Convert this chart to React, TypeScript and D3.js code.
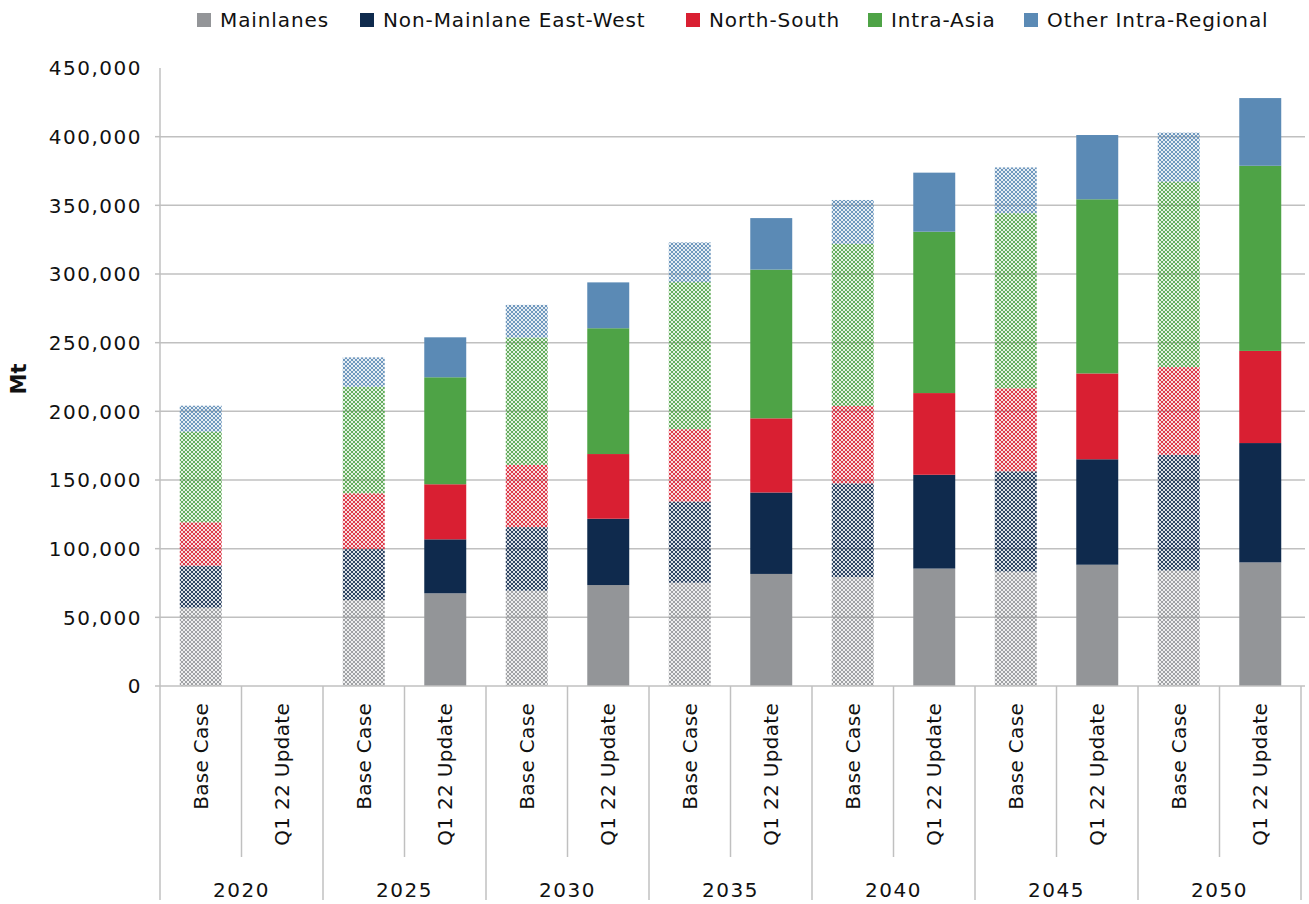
import React from "react";
import * as d3 from "d3";

const years = ["2020", "2025", "2030", "2035", "2040", "2045", "2050"];
const scenarios = ["Base Case", "Q1 22 Update"];
const seriesNames = ["Mainlanes", "Non-Mainlane East-West", "North-South", "Intra-Asia", "Other Intra-Regional"];
const seriesColors = ["#939598", "#0f2a4d", "#d91f32", "#4ea346", "#5b8ab5"];
const yTicks = [0, 50000, 100000, 150000, 200000, 250000, 300000, 350000, 400000, 450000];

// order of bars: 2020 BC, 2020 Q1, 2025 BC, 2025 Q1, ...
const mainlanes = [57000, 0, 62600, 67500, 69400, 73500, 75200, 81600, 79300, 85500, 83300, 88300, 84100, 90000];
const nonMainlaneEW = [30600, 0, 37100, 39300, 46300, 48300, 59100, 59300, 68300, 68300, 73000, 76800, 84300, 86900];
const northSouth = [31600, 0, 40600, 40100, 45300, 47100, 52700, 54000, 56300, 59500, 60500, 62500, 63800, 67100];
const intraAsia = [66000, 0, 77600, 77900, 92700, 91600, 107100, 108300, 118000, 117500, 127500, 126800, 135000, 134800];
const otherIntra = [18900, 0, 21400, 29100, 23800, 33400, 28900, 37500, 32000, 43000, 33300, 46800, 35700, 49300];

const seriesValues = [mainlanes, nonMainlaneEW, northSouth, intraAsia, otherIntra];

const W = 1309, H = 904;
const left = 160, right = 1301, top = 68, bottom = 686;
const FONT = "'DejaVu Sans', sans-serif";
const GRID = "#c0c0c0";

export default function App() {
  const bars = years.flatMap((y) => scenarios.map((s) => ({ key: y + "|" + s, year: y, scenario: s })));
  const rows = bars.map((b, i) => {
    const r: any = { key: b.key, scenario: b.scenario };
    seriesNames.forEach((n, k) => (r[n] = seriesValues[k][i]));
    return r;
  });
  const stack = d3.stack<any>().keys(seriesNames)(rows);

  const x = d3.scaleBand<string>().domain(bars.map((b) => b.key)).range([left, right]).padding(0);
  const yearX = d3.scaleBand<string>().domain(years).range([left, right]).padding(0);
  const y = d3.scaleLinear().domain([0, 450000]).range([bottom, top]);
  const bw = x.bandwidth() * 0.515;
  const fmt = d3.format(",");

  const legendX = [197, 360, 686, 868, 1024];

  return (
    <svg width={W} height={H} style={{ position: "absolute", left: 0, top: 0, background: "#fff" }}>
      <defs>
        {seriesColors.map((c, i) => (
          <pattern key={i} id={"hatch" + i} patternUnits="userSpaceOnUse" width={4} height={4}>
            <g fill={c} fillOpacity={0.9}>
              <circle cx={0} cy={0} r={1.2} />
              <circle cx={4} cy={0} r={1.2} />
              <circle cx={0} cy={4} r={1.2} />
              <circle cx={4} cy={4} r={1.2} />
              <circle cx={2} cy={2} r={1.2} />
            </g>
          </pattern>
        ))}
      </defs>

      {/* legend */}
      {seriesNames.map((n, i) => (
        <g key={n}>
          <rect x={legendX[i]} y={13} width={14} height={14} fill={seriesColors[i]} />
          <text x={legendX[i] + 23} y={27} fontFamily={FONT} fontSize={20} letterSpacing={0.9} fill="#111">
            {n}
          </text>
        </g>
      ))}

      {/* gridlines */}
      {yTicks.filter((t) => t > 0 && t < 450000).map((t) => (
        <line key={t} x1={left} x2={right + 4} y1={y(t)} y2={y(t)} stroke={GRID} strokeWidth={1.5} />
      ))}

      {/* bars */}
      {stack.map((layer, si) =>
        layer.map((d, bi) => {
          const b = bars[bi];
          const h = y(d[0]) - y(d[1]);
          if (h <= 0) return null;
          const hatched = b.scenario === scenarios[0];
          return (
            <rect
              key={si + "-" + bi}
              x={(x(b.key) as number) + (x.bandwidth() - bw) / 2}
              y={y(d[1])}
              width={bw}
              height={h}
              fill={hatched ? `url(#hatch${si})` : seriesColors[si]}
            />
          );
        })
      )}

      {/* y axis */}
      <line x1={left} x2={left} y1={y(450000)} y2={bottom} stroke={GRID} strokeWidth={1.5} />
      {yTicks.map((t) => (
        <g key={t}>
          {t < 450000 && <line x1={left - 5} x2={left} y1={y(t)} y2={y(t)} stroke={GRID} strokeWidth={1.5} />}
          <text x={142} y={y(t)} dy="0.36em" textAnchor="end" fontFamily={FONT} fontSize={20} letterSpacing={1.5} fill="#111">
            {fmt(t)}
          </text>
        </g>
      ))}
      <text
        transform={`translate(26,${(top + bottom) / 2 + 2}) rotate(-90)`}
        textAnchor="middle"
        fontFamily={FONT}
        fontSize={21}
        fontWeight="bold"
        fill="#111"
      >
        Mt
      </text>

      {/* x axis */}
      <line x1={left} x2={right + 4} y1={bottom} y2={bottom} stroke={GRID} strokeWidth={1.5} />
      {bars.map((b, i) => {
        const x0 = x(b.key) as number;
        const isYearStart = i % 2 === 0;
        return (
          <g key={b.key}>
            <line x1={x0} x2={x0} y1={bottom} y2={isYearStart ? 900 : 857} stroke={GRID} strokeWidth={1.5} />
            <text
              transform={`translate(${x0 + x.bandwidth() / 2},703) rotate(-90)`}
              textAnchor="end"
              dy="0.36em"
              fontFamily={FONT}
              fontSize={20}
              letterSpacing={0.3}
              fill="#111"
            >
              {b.scenario}
            </text>
          </g>
        );
      })}
      <line x1={right} x2={right} y1={bottom} y2={900} stroke={GRID} strokeWidth={1.5} />
      {years.map((yr) => (
        <text
          key={yr}
          x={(yearX(yr) as number) + yearX.bandwidth() / 2}
          y={897}
          textAnchor="middle"
          fontFamily={FONT}
          fontSize={20}
          letterSpacing={1.5}
          fill="#111"
        >
          {yr}
        </text>
      ))}
    </svg>
  );
}
